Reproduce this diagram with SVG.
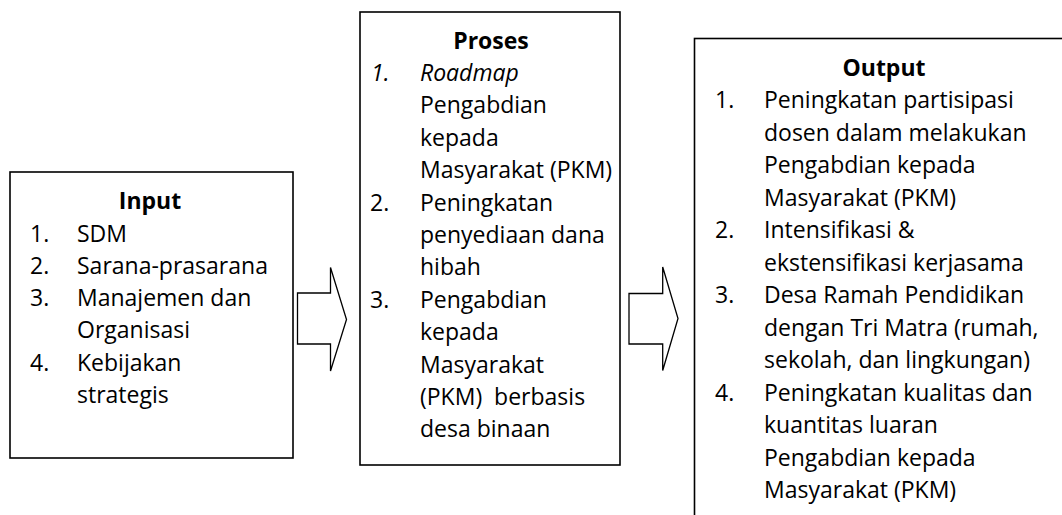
<svg xmlns="http://www.w3.org/2000/svg" width="1062" height="515" viewBox="0 0 1062 515">
<style>
.box{fill:#fff;stroke:#000;stroke-width:1.6}
.arr{fill:#fff;stroke:#000;stroke-width:1.3;stroke-linejoin:miter}
text{font-family:"Open Sans","Noto Sans","Liberation Sans",sans-serif;font-size:23px;fill:#000}
.t{font-weight:bold;text-anchor:middle}
.i{font-style:italic}
.pre{white-space:pre}
</style>
<rect width="1062" height="515" fill="#fff"/>
<g id="connectors">
<polygon class="arr" points="297.5,293 330.5,293 330.5,267.5 346.5,319.5 330.5,371 330.5,344 297.5,344"/>
<polygon class="arr" points="629,293.5 662.7,293.5 662.7,267 678,318.5 662.7,370.5 662.7,344 629,344"/>
</g>
<g id="input">
<rect class="box" x="10" y="172" width="283" height="286"/>
<text class="t" x="150" y="209">Input</text>
<text x="30" y="241.5">1.</text><text x="77" y="241.5">SDM</text>
<text x="30" y="273.8">2.</text><text x="77" y="273.8">Sarana-prasarana</text>
<text x="30" y="306">3.</text><text x="77" y="306">Manajemen dan</text>
<text x="77" y="338.3">Organisasi</text>
<text x="30" y="370.6">4.</text><text x="77" y="370.6">Kebijakan</text>
<text x="77" y="403">strategis</text>
</g>
<g id="proses">
<rect class="box" x="360" y="12" width="260" height="453"/>
<text class="t" x="491" y="48.5">Proses</text>
<text class="i" x="371" y="81">1.</text><text class="i" x="420" y="81">Roadmap</text>
<text x="420" y="113.4">Pengabdian</text>
<text x="420" y="145.8">kepada</text>
<text x="420" y="178.2">Masyarakat (PKM)</text>
<text x="370" y="210.6">2.</text><text x="420" y="210.6">Peningkatan</text>
<text x="420" y="243">penyediaan dana</text>
<text x="420" y="275.4">hibah</text>
<text x="370" y="307.8">3.</text><text x="420" y="307.8">Pengabdian</text>
<text x="420" y="340.2">kepada</text>
<text x="420" y="372.6">Masyarakat</text>
<text class="pre" x="420" y="405" xml:space="preserve">(PKM)  berbasis</text>
<text x="420" y="437.4">desa binaan</text>
</g>
<g id="output">
<rect class="box" x="694.5" y="38.5" width="400" height="500"/>
<text class="t" x="884" y="75.8">Output</text>
<text x="715" y="108.3">1.</text><text x="764" y="108.3">Peningkatan partisipasi</text>
<text x="764" y="140.8">dosen dalam melakukan</text>
<text x="764" y="173.3">Pengabdian kepada</text>
<text x="764" y="205.8">Masyarakat (PKM)</text>
<text x="715" y="238.3">2.</text><text x="764" y="238.3">Intensifikasi &amp;</text>
<text x="764" y="270.8">ekstensifikasi kerjasama</text>
<text x="715" y="303.3">3.</text><text x="764" y="303.3">Desa Ramah Pendidikan</text>
<text x="764" y="335.8">dengan Tri Matra (rumah,</text>
<text x="764" y="368.3">sekolah, dan lingkungan)</text>
<text x="715" y="400.8">4.</text><text x="764" y="400.8">Peningkatan kualitas dan</text>
<text x="764" y="433.3">kuantitas luaran</text>
<text x="764" y="465.8">Pengabdian kepada</text>
<text x="764" y="498.3">Masyarakat (PKM)</text>
</g>
</svg>
